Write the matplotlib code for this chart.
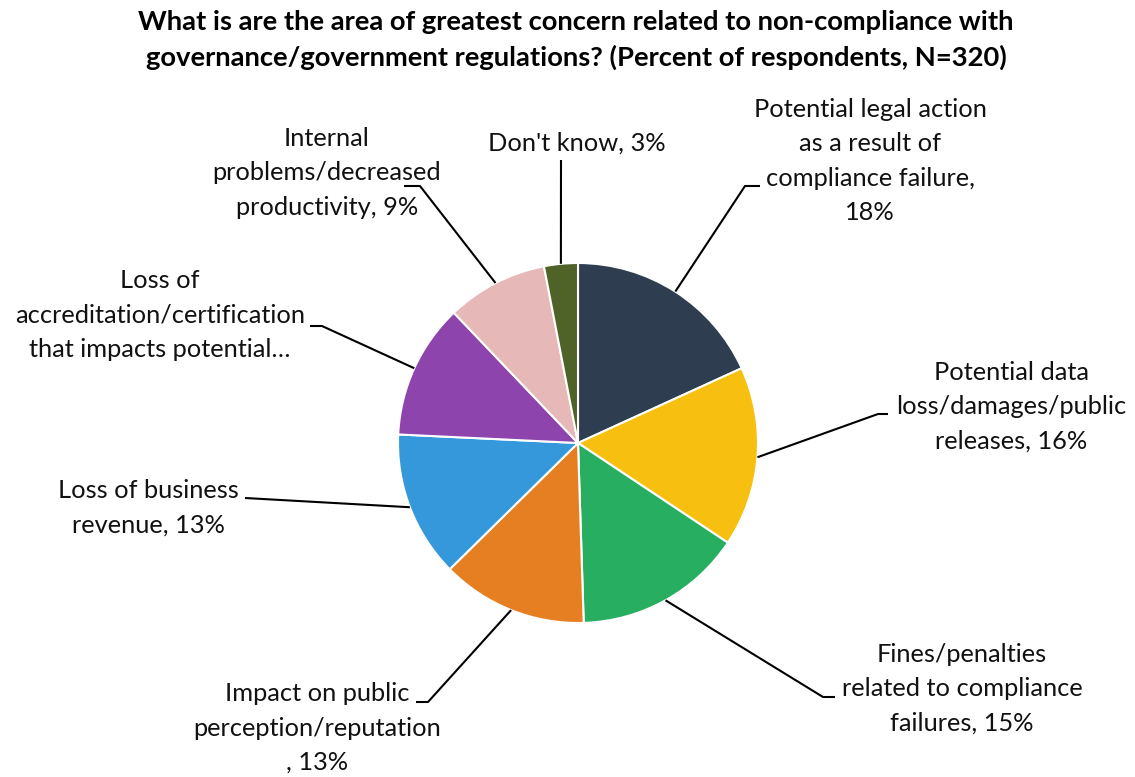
import matplotlib
matplotlib.use("Agg")
import matplotlib.pyplot as plt
import numpy as np

# ---- data ----
categories = [
    "Potential legal action\nas a result of\ncompliance failure,\n18%",
    "Potential data\nloss/damages/public\nreleases, 16%",
    "Fines/penalties\nrelated to compliance\nfailures, 15%",
    "Impact on public\nperception/reputation\n, 13%",
    "Loss of business\nrevenue, 13%",
    "Loss of\naccreditation/certification\nthat impacts potential…",
    "Internal\nproblems/decreased\nproductivity, 9%",
    "Don't know, 3%",
]
values = [18, 16, 15, 13, 13, 12, 9, 3]
colors = ["#2E3E50", "#F7C010", "#27AE60", "#E67E22", "#3498DB",
          "#8E44AD", "#E6B8B7", "#4F6228"]
title = ("What is are the area of greatest concern related to non-compliance with\n"
         "governance/government regulations? (Percent of respondents, N=320)")

# ---- layout (pixel coordinates, y from top) ----
W, H = 1135, 777
center_px = (578, 443)
radius_px = 180
# label text centres
label_pos = [(870, 161), (1011, 407), (962, 689), (317, 728),
             (148, 508), (160, 315), (327, 173), (577, 143)]
# leader elbow point and end of the short horizontal tick
elbows = [((745, 186), (760, 186)),
          ((878, 414), (888, 414)),
          ((823, 697), (835, 697)),
          ((428, 702), (416, 702)),
          ((245, 498), (245, 498)),
          ((322, 326), (310, 326)),
          ((420, 186), (404, 186)),
          ((561, 160), (561, 160))]

plt.rcParams['font.family'] = ['Lato', 'DejaVu Sans']

fig = plt.figure(figsize=(W / 100, H / 100), dpi=100)
ax = fig.add_axes([0, 0, 1, 1])
ax.set_xlim(0, W)
ax.set_ylim(0, H)
ax.set_aspect('equal')
ax.axis('off')

def Y(py):
    return H - py

cx, cy = center_px[0], Y(center_px[1])
wedges, _ = ax.pie(values, colors=colors, startangle=90, counterclock=False,
                   center=(cx, cy), radius=radius_px,
                   wedgeprops=dict(edgecolor='white', linewidth=1.5))
ax.set_xlim(0, W)
ax.set_ylim(0, H)

for w, lab, (lx, ly), (e1, e2) in zip(wedges, categories, label_pos, elbows):
    mid = np.deg2rad((w.theta1 + w.theta2) / 2)
    sx = cx + radius_px * np.cos(mid)
    sy = cy + radius_px * np.sin(mid)
    ax.plot([sx, e1[0], e2[0]], [sy, Y(e1[1]), Y(e2[1])], color='black',
            lw=1.5, solid_capstyle='butt', zorder=3)
    ax.text(lx, Y(ly), lab, ha='center', va='center', fontsize=18.3,
            linespacing=1.58, color='#111111')

ax.text(576, Y(40), title, ha='center', va='center', fontsize=19.7,
        fontweight='bold', linespacing=1.48, color='black')

fig.savefig("out.png", dpi=100)
